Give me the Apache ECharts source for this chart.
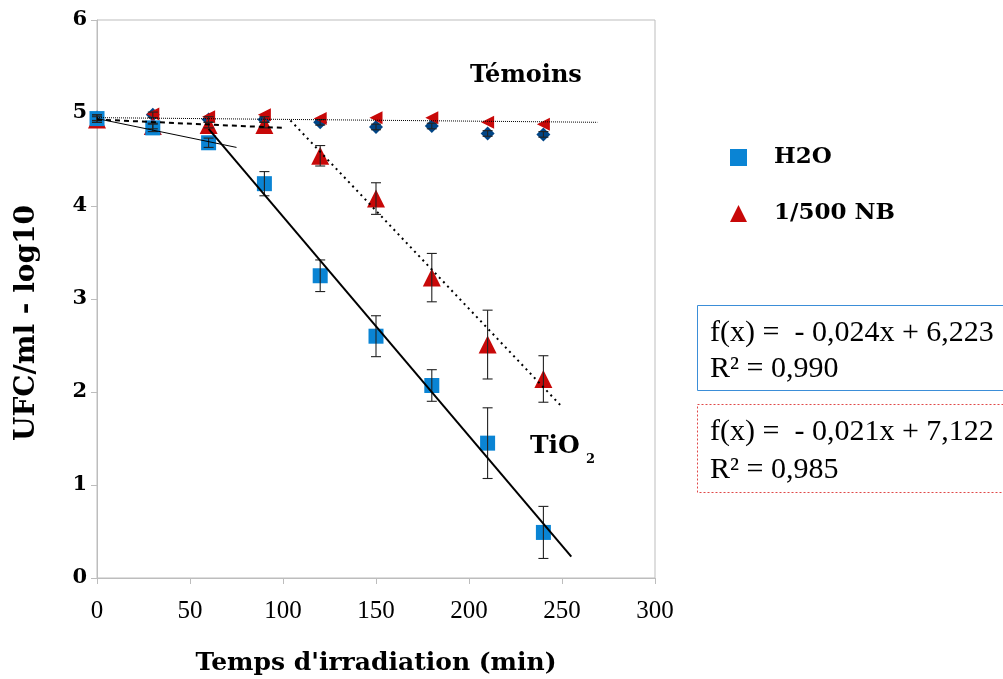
<!DOCTYPE html>
<html>
<head>
<meta charset="utf-8">
<script src="https://cdn.jsdelivr.net/npm/echarts@6/dist/echarts.min.js"></script>
<style>
html,body{margin:0;padding:0;background:#fff;}
#chart{width:1003px;height:679px;}
</style>
</head>
<body>
<div id="chart"></div>
<script>
// ---- data ----
const times = [0, 30, 60, 90, 120, 150, 180, 210, 240];
const h2o = [4.94, 4.84, 4.68, 4.24, 3.25, 2.60, 2.07, 1.45, 0.49];
const h2oErr = [0.04, 0.04, 0.05, 0.13, 0.17, 0.22, 0.17, 0.38, 0.28];
const nb = [4.93, 4.86, 4.87, 4.87, 4.54, 4.08, 3.23, 2.51, 2.14];
const nbErr = [0.03, 0.03, 0.03, 0.03, 0.11, 0.17, 0.26, 0.37, 0.25];
const temoinH2O = [4.95, 4.98, 4.93, 4.93, 4.90, 4.85, 4.86, 4.78, 4.77];
const temoinH2OErr = [0.03, 0.03, 0.03, 0.03, 0.03, 0.03, 0.03, 0.03, 0.03];
const temoinNB = [4.92, 4.99, 4.96, 4.98, 4.94, 4.95, 4.95, 4.90, 4.88];
const trendTemoins = [[0, 4.95], [269, 4.90]];
const trendH2O1 = [[0, 4.94], [75, 4.63]];
const trendH2O2 = [[60, 4.83], [255, 0.23]];
const trendNB1 = [[0, 4.93], [100, 4.84]];
const trendNB2 = [[104, 4.92], [250, 1.84]];
const xTicks = [0, 50, 100, 150, 200, 250, 300];
const yTicks = [0, 1, 2, 3, 4, 5, 6];
const legendNames = ['H2O', '1/500 NB'];
const xTitle = "Temps d'irradiation (min)";
const yTitle = 'UFC/ml - log10';
const eqH2O = ['f(x) =  - 0,024x + 6,223', 'R² = 0,990'];
const eqNB = ['f(x) =  - 0,021x + 7,122', 'R² = 0,985'];

const BLUE = '#0a84d4';
const RED = '#c80808';
const DARK = '#004586';
const BOLD = 'DejaVu Serif';
const REG = 'Liberation Serif';

function pairs(xs, ys) { return xs.map((x, i) => [x, ys[i]]); }
function errData(xs, ys, es) { return xs.map((x, i) => [x, ys[i] - es[i], ys[i] + es[i]]); }

function errSeries(data) {
  return {
    type: 'custom', z: 5, silent: true,
    data: data,
    renderItem: function (params, api) {
      const x = api.value(0);
      const lo = api.coord([x, api.value(1)]);
      const hi = api.coord([x, api.value(2)]);
      const w = 5;
      const st = { stroke: '#222', lineWidth: 1.1 };
      return {
        type: 'group',
        children: [
          { type: 'line', shape: { x1: lo[0], y1: lo[1], x2: hi[0], y2: hi[1] }, style: st },
          { type: 'line', shape: { x1: lo[0] - w, y1: lo[1], x2: lo[0] + w, y2: lo[1] }, style: st },
          { type: 'line', shape: { x1: hi[0] - w, y1: hi[1], x2: hi[0] + w, y2: hi[1] }, style: st }
        ]
      };
    },
    encode: { x: 0, y: [1, 2] }
  };
}

function trend(data, width, type) {
  return {
    type: 'line', data: data, symbol: 'none', z: 6, silent: true,
    lineStyle: { color: '#000', width: width, type: type }
  };
}

const chart = echarts.init(document.getElementById('chart'));
chart.setOption({
  animation: false,
  backgroundColor: '#fff',
  grid: { left: 97, right: 348, top: 20, bottom: 101, show: true, borderColor: '#bdbdbd', borderWidth: 1, containLabel: false, outerBoundsMode: 'none' },
  xAxis: {
    type: 'value', min: xTicks[0], max: xTicks[xTicks.length - 1], interval: 50,
    axisLine: { show: true, lineStyle: { color: '#bdbdbd' } },
    axisTick: { show: true, length: 6, lineStyle: { color: '#bdbdbd' } },
    splitLine: { show: false },
    axisLabel: { margin: 21, color: '#000', fontFamily: REG, fontSize: 25 },
    name: xTitle, nameLocation: 'middle', nameGap: 73,
    nameTextStyle: { fontFamily: BOLD, fontWeight: 'bold', fontSize: 25, color: '#000' }
  },
  yAxis: {
    type: 'value', min: yTicks[0], max: yTicks[yTicks.length - 1], interval: 1,
    axisLine: { show: true, lineStyle: { color: '#bdbdbd' } },
    axisTick: { show: true, length: 6, lineStyle: { color: '#bdbdbd' } },
    splitLine: { show: false },
    axisLabel: { margin: 10, color: '#000', fontFamily: BOLD, fontWeight: 'bold', fontSize: 21 }
  },
  legend: {
    orient: 'vertical', left: 725, top: 141, itemWidth: 17, itemHeight: 17, itemGap: 33,
    data: [{ name: legendNames[0], icon: 'rect' }, { name: legendNames[1], icon: 'triangle' }],
    textStyle: { fontFamily: BOLD, fontWeight: 'bold', fontSize: 23, color: '#000', padding: [0, 0, 0, 22] }
  },
  series: [
    { name: 'témoin H2O', type: 'scatter', data: pairs(times, temoinH2O), symbol: 'diamond', symbolSize: 14, itemStyle: { color: DARK, opacity: 1 }, z: 2 },
    { name: 'témoin NB', type: 'scatter', data: pairs(times, temoinNB), symbol: 'triangle', symbolRotate: 90, symbolSize: 13, itemStyle: { color: RED, opacity: 1 }, z: 2 },
    errSeries(errData(times, temoinH2O, temoinH2OErr)),
    { name: legendNames[1], type: 'scatter', data: pairs(times, nb), symbol: 'triangle', symbolSize: 18, itemStyle: { color: RED, opacity: 1 }, z: 3 },
    { name: legendNames[0], type: 'scatter', data: pairs(times, h2o), symbol: 'rect', symbolSize: 15, itemStyle: { color: BLUE, opacity: 1 }, z: 3 },
    errSeries(errData(times, nb, nbErr)),
    errSeries(errData(times, h2o, h2oErr)),
    trend(trendTemoins, 1, [1, 1]),
    trend(trendH2O1, 1, 'solid'),
    trend(trendH2O2, 2, 'solid'),
    trend(trendNB1, 2, [5, 4]),
    trend(trendNB2, 2, [2, 4])
  ],
  graphic: [
    { type: 'text', x: 27, y: 323, rotation: Math.PI / 2, style: { text: yTitle, fontFamily: BOLD, fontWeight: 'bold', fontSize: 28, fill: '#000', align: 'center', verticalAlign: 'middle' } },
    { type: 'text', left: 470, top: 64, style: { text: 'Témoins', fontFamily: BOLD, fontWeight: 'bold', fontSize: 24, fill: '#000' } },
    { type: 'text', left: 530, top: 434, style: { text: 'TiO', fontFamily: BOLD, fontWeight: 'bold', fontSize: 25, fill: '#000' } },
    { type: 'text', left: 586, top: 453, style: { text: '2', fontFamily: BOLD, fontWeight: 'bold', fontSize: 13, fill: '#000' } },
    { type: 'rect', shape: { x: 697.5, y: 305.5, width: 330, height: 85 }, style: { fill: '#fff', stroke: '#3b8ed8', lineWidth: 1 } },
    { type: 'text', x: 710, y: 333, style: { text: eqH2O[0], fontFamily: REG, fontSize: 30, fill: '#000', verticalAlign: 'middle' } },
    { type: 'text', x: 710, y: 369, style: { text: eqH2O[1], fontFamily: REG, fontSize: 30, fill: '#000', verticalAlign: 'middle' } },
    { type: 'rect', shape: { x: 697.5, y: 404.5, width: 330, height: 88 }, style: { fill: '#fff', stroke: '#e04848', lineWidth: 1, lineDash: [2, 2] } },
    { type: 'text', x: 710, y: 432, style: { text: eqNB[0], fontFamily: REG, fontSize: 30, fill: '#000', verticalAlign: 'middle' } },
    { type: 'text', x: 710, y: 470, style: { text: eqNB[1], fontFamily: REG, fontSize: 30, fill: '#000', verticalAlign: 'middle' } }
  ]
});
</script>
</body>
</html>
